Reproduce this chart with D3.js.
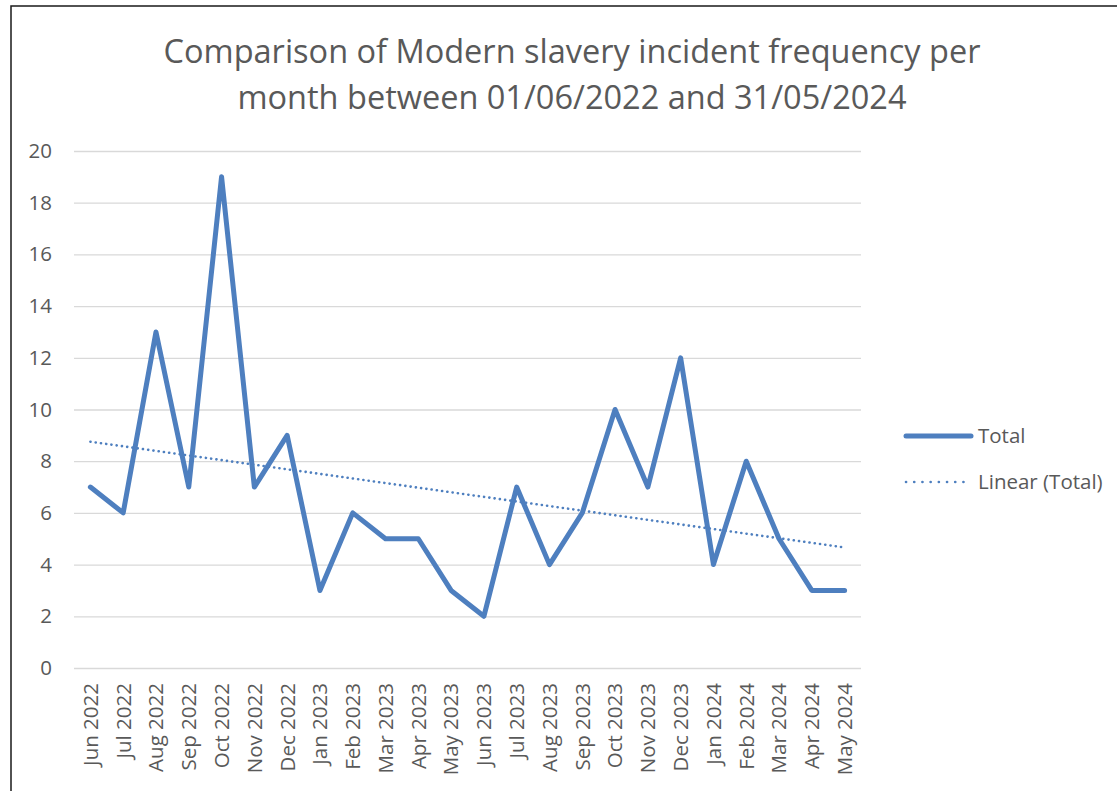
<!DOCTYPE html>
<html><head><meta charset="utf-8">
<script src="https://cdn.jsdelivr.net/npm/d3@7"></script>
<style>body{margin:0;background:#fff}svg{display:block}text{font-family:"Open Sans","Liberation Sans",sans-serif}</style>
</head><body>
<svg id="c" width="1117" height="791"></svg>
<script>
const categories = ["Jun 2022","Jul 2022","Aug 2022","Sep 2022","Oct 2022","Nov 2022","Dec 2022","Jan 2023","Feb 2023","Mar 2023","Apr 2023","May 2023","Jun 2023","Jul 2023","Aug 2023","Sep 2023","Oct 2023","Nov 2023","Dec 2023","Jan 2024","Feb 2024","Mar 2024","Apr 2024","May 2024"];
const totals = [7,6,13,7,19,7,9,3,6,5,5,3,2,7,4,6,10,7,12,4,8,5,3,3];
const yTicks = [0,2,4,6,8,10,12,14,16,18,20];
const titleLines = ["Comparison of Modern slavery incident frequency per","month between 01/06/2022 and 31/05/2024"];
const legendLabels = ["Total","Linear (Total)"];

const svg = d3.select("#c");
const blue = "#4e7fbf", grid = "#d9d9d9", txt = "#595959";
const ff = '"Open Sans","Liberation Sans",sans-serif';

svg.append("rect").attr("x",11).attr("y",6).attr("width",1200).attr("height",900)
  .attr("fill","none").attr("stroke","#1a1a1a").attr("stroke-width",1.5);

svg.append("g").selectAll("text").data(titleLines).join("text")
  .attr("x",572).attr("y",(d,i)=>63+i*45.5).attr("text-anchor","middle")
  .attr("font-size",32.5).attr("fill",txt).text(d=>d);

const x = d3.scaleBand().domain(categories).range([74,861]);
const y = d3.scaleLinear().domain([0,20]).range([668,151]);

const yAxis = svg.append("g").attr("transform","translate(74,0)")
  .call(d3.axisLeft(y).tickValues(yTicks).tickSize(-787).tickPadding(22));
yAxis.select(".domain").remove();
yAxis.selectAll("line").attr("stroke",grid).attr("stroke-width",1.3);
yAxis.selectAll("text").attr("fill",txt).attr("font-size",20.5).style("font-family",ff);

const xAxis = svg.append("g").attr("transform","translate(0,668)")
  .call(d3.axisBottom(x).tickSize(0));
xAxis.select(".domain").remove();
xAxis.selectAll("text").attr("fill",txt).attr("font-size",20.5)
  .style("font-family",ff)
  .attr("transform","rotate(-90)").attr("text-anchor","end")
  .attr("x",-15).attr("y",0).attr("dy","0.36em");

const cx = d => x(d) + x.bandwidth()/2;
const line = d3.line().x((d,i)=>cx(categories[i])).y(d=>y(d));
svg.append("path").datum(totals).attr("d",line).attr("fill","none")
  .attr("stroke",blue).attr("stroke-width",5).attr("stroke-linejoin","round").attr("stroke-linecap","round");

// linear trend (least squares on index)
const n = totals.length, idx = d3.range(1,n+1);
const mx = d3.mean(idx), my = d3.mean(totals);
const b = d3.sum(idx,(v,i)=>(v-mx)*(totals[i]-my))/d3.sum(idx,v=>(v-mx)**2);
const a = my - b*mx;
const trend = idx.map(v=>a+b*v);
svg.append("path").datum(trend).attr("d",line).attr("fill","none")
  .attr("stroke",blue).attr("stroke-width",2.6).attr("stroke-dasharray","0.1 5.2").attr("stroke-linecap","round");

// legend
const lg = svg.append("g");
lg.append("line").attr("x1",906).attr("x2",971).attr("y1",436).attr("y2",436)
  .attr("stroke",blue).attr("stroke-width",5).attr("stroke-linecap","round");
lg.append("line").attr("x1",906).attr("x2",971).attr("y1",482).attr("y2",482)
  .attr("stroke",blue).attr("stroke-width",2.6).attr("stroke-dasharray","0.1 8.1").attr("stroke-linecap","round");
lg.selectAll("text").data(legendLabels).join("text")
  .attr("x",978).attr("y",(d,i)=>436+i*46).attr("dy","0.36em")
  .attr("font-size",20.5).attr("fill",txt).style("font-family",ff).text(d=>d);
</script>
</body></html>
